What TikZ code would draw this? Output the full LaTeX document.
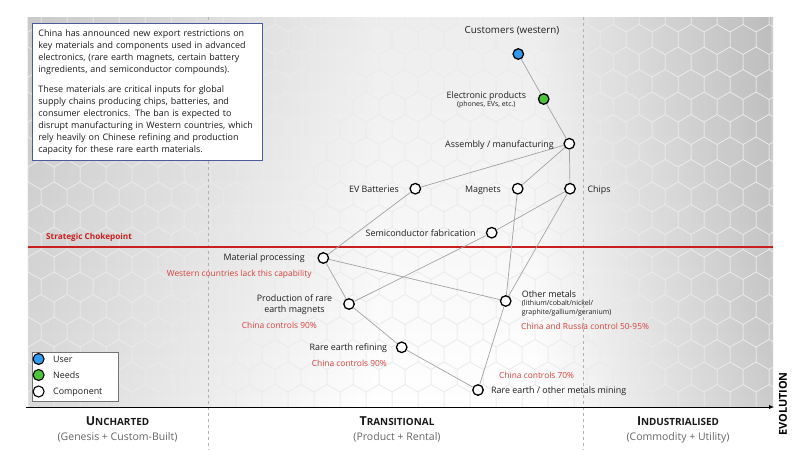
\documentclass[tikz,border=0pt]{standalone}
\usepackage{fontspec}
\setmainfont{Open Sans}
\usetikzlibrary{arrows.meta,fadings}

\definecolor{edgec}{HTML}{A3A3A3}
\definecolor{chk}{HTML}{C8201E}
\definecolor{userc}{HTML}{2E9BF0}
\definecolor{needc}{HTML}{4CC43A}
\definecolor{boxc}{HTML}{4B5A9B}
\definecolor{redtxt}{HTML}{D6403A}
\definecolor{cone}{HTML}{D9D9D9}
\definecolor{ctwo}{HTML}{CBCBCB}
\definecolor{hexc}{HTML}{EBEBEB}
\definecolor{subtxt}{HTML}{666666}

\pgfdeclarehorizontalshading{bgshade}{100bp}{color(0bp)=(cone); color(25bp)=(cone); color(48.5bp)=(white); color(59bp)=(white); color(75bp)=(ctwo); color(100bp)=(ctwo)}

\tikzset{
  comp/.style={circle, draw=black, line width=1.3pt, fill=white, minimum size=10.5pt, inner sep=0pt},
  usernode/.style={comp, fill=userc},
  neednode/.style={comp, fill=needc},
  lbl/.style={font=\fontsize{8.9}{10}\selectfont, inner sep=0pt, text=black!88},
  sublbl/.style={font=\fontsize{7}{8.7}\selectfont, inner sep=0pt, text=black!88},
  note/.style={font=\fontsize{8.4}{10}\selectfont, inner sep=0pt, text=redtxt},
  link/.style={draw=edgec, line width=0.7pt},
  hexline/.style={draw=hexc, line width=0.5pt},
  guide/.style={draw=black!30, line width=0.7pt, dash pattern=on 3pt off 3pt},
  phase/.style={inner sep=0pt, text=black!90, font=\bfseries},
  phasesub/.style={inner sep=0pt, text=subtxt, font=\fontsize{10.5}{12}\selectfont},
}

\begin{document}
\begin{tikzpicture}[x=1pt,y=-1pt]
\useasboundingbox (0,0) rectangle (800,450);
\fill[white] (0,0) rectangle (800,450);

% background panel
\shade[shading=bgshade] (28,17) rectangle (773,407);
\fill[black, opacity=0.07, path fading=south] (28,17) rectangle (773,407);
\begin{scope}
\clip (28,17) rectangle (773,407);
\foreach \r in {0,...,18}{
  \foreach \c in {0,...,29}{
    \pgfmathsetmacro{\hx}{28+26*\c+13*mod(\r,2)}
    \pgfmathsetmacro{\hy}{17+22.5*\r}
    \draw[hexline] (\hx,\hy) ++(0,-15) -- ++(13,7.5) -- ++(0,15) -- ++(-13,7.5) -- ++(-13,-7.5) -- ++(0,-15) -- cycle;
  }
}
\end{scope}

% phase guides
\draw[guide] (208.5,17) -- (208.5,450);
\draw[guide] (583.3,17) -- (583.3,450);

% strategic chokepoint
\coordinate (ck0) at (28,246.7);
\coordinate (ck1) at (773,246.7);
\draw[chk, line width=2pt] (ck0) -- (ck1);
\node[font=\bfseries\fontsize{8.2}{9}\selectfont, text=chk, anchor=base west, inner sep=0pt] (ckL) at (46,239.8) {Strategic Chokepoint};

% text box
\node[draw=boxc, line width=0.8pt, fill=white, anchor=north west, inner xsep=6pt, inner ysep=5pt, align=left, text width=218pt,
      font=\fontsize{8.95}{12.1}\selectfont, text=black!90, minimum height=137pt] (info) at (32,23.3)
 {China has announced new export restrictions on\\
  key materials and components used in advanced\\
  electronics, (rare earth magnets, certain battery\\
  ingredients, and semiconductor compounds).\\[7.5pt]
  These materials are critical inputs for global\\
  supply chains producing chips, batteries, and\\
  consumer electronics. The ban is expected to\\
  disrupt manufacturing in Western countries, which\\
  rely heavily on Chinese refining and production\\
  capacity for these rare earth materials.};

% components
\node[usernode] (cust) at (518.3,54) {};
\node[neednode] (elec) at (543.7,99) {};
\node[comp] (asm) at (569.3,143.7) {};
\node[comp] (ev) at (415.3,188.7) {};
\node[comp] (mag) at (517.7,188.7) {};
\node[comp] (chips) at (570,188.7) {};
\node[comp] (semi) at (491.7,232.7) {};
\node[comp] (mat) at (323.3,258) {};
\node[comp] (prod) at (349,304) {};
\node[comp] (oth) at (505.7,301) {};
\node[comp] (ref) at (401.7,347.3) {};
\node[comp] (mine) at (478,390) {};

% links
\draw[link] (cust) -- (elec);
\draw[link] (elec) -- (asm);
\draw[link] (asm) -- (ev);
\draw[link] (asm) -- (mag);
\draw[link] (asm) -- (chips);
\draw[link] (chips) -- (semi);
\draw[link] (chips) -- (oth);
\draw[link] (mag) -- (oth);
\draw[link] (ev) -- (mat);
\draw[link] (semi) -- (prod);
\draw[link] (mat) -- (prod);
\draw[link] (mat) -- (oth);
\draw[link] (prod) -- (ref);
\draw[link] (ref) -- (mine);
\draw[link] (oth) -- (mine);

% labels
\node[lbl, font=\fontsize{9.8}{11}\selectfont, anchor=base] (custL) at (512,33.6) {Customers (western)};
\node[lbl, anchor=base] (elecL) at (486.3,98.2) {Electronic products};
\node[sublbl, anchor=base] (elecS) at (486.3,106.6) {(phones, EVs, etc.)};
\node[lbl, anchor=base east] (asmL) at (554,147.2) {Assembly / manufacturing};
\node[lbl, anchor=base east] (evL) at (399,192.2) {EV Batteries};
\node[lbl, anchor=base east] (magL) at (501,192.2) {Magnets};
\node[lbl, anchor=base west] (chipsL) at (587.3,192.2) {Chips};
\node[lbl, anchor=base east] (semiL) at (475.7,236.2) {Semiconductor fabrication};
\node[lbl, anchor=base east] (matL) at (305,260.2) {Material processing};
\node[note, anchor=base west] (matN) at (166.7,276.3) {Western countries lack this capability};
\node[lbl, align=center, font=\fontsize{8.9}{10.7}\selectfont, anchor=center] (prodL) at (294.5,304.8) {Production of rare\\earth magnets};
\node[note, anchor=base west] (prodN) at (241.7,328.7) {China controls 90\%};
\node[lbl, anchor=base west] (othL) at (521.7,297.2) {Other metals};
\node[sublbl, align=left, anchor=north west] (othS) at (521.7,299.8) {(lithium/cobalt/nickel/\\graphite/gallium/geranium)};
\node[note, anchor=base west] (othN) at (521,329) {China and Russia control 50-95\%};
\node[lbl, anchor=base east] (refL) at (387.3,350.9) {Rare earth refining};
\node[note, anchor=base west] (refN) at (311.7,366.3) {China controls 90\%};
\node[note, anchor=base west] (mineN) at (499,378) {China controls 70\%};
\node[lbl, anchor=base west] (mineL) at (491,393.2) {Rare earth / other metals mining};

% legend
\node[draw=black!55, line width=0.7pt, fill=white, minimum width=86.6pt, minimum height=49.3pt, inner sep=0pt, anchor=north west] (legend) at (31.7,351.7) {};
\node[usernode, minimum size=11pt, line width=1.1pt] (lgU) at (38.6,359) {};
\node[neednode, minimum size=11pt, line width=1.1pt] (lgN) at (38.6,375) {};
\node[comp, minimum size=11pt, line width=1.1pt] (lgC) at (38.6,391.5) {};
\node[lbl, anchor=base west] (lgUL) at (53,362.2) {User};
\node[lbl, anchor=base west] (lgNL) at (53,378.2) {Needs};
\node[lbl, anchor=base west] (lgCL) at (53,394.7) {Component};

% axis
\coordinate (ax0) at (26,407);
\coordinate (ax1) at (774,407);
\draw[line width=1pt, -{Latex[length=5pt,width=4.5pt]}] (ax0) -- (ax1);
\node[rotate=90, inner sep=0pt, font=\bfseries\fontsize{10.9}{12}\selectfont] (evo) at (783,404) {EVOLUTION};

% phases
\node[phase, anchor=base] (unc) at (117.5,425) {{\fontsize{12.4}{14}\selectfont U}{\fontsize{9.9}{12}\selectfont NCHARTED}};
\node[phasesub, anchor=base] (uncS) at (117.5,440.7) {(Genesis + Custom-Built)};
\node[phase, anchor=base] (tra) at (397,425) {{\fontsize{12.4}{14}\selectfont T}{\fontsize{9.9}{12}\selectfont RANSITIONAL}};
\node[phasesub, anchor=base] (traS) at (397,440.7) {(Product + Rental)};
\node[phase, anchor=base] (ind) at (678,425) {{\fontsize{12.4}{14}\selectfont I}{\fontsize{9.9}{12}\selectfont NDUSTRIALISED}};
\node[phasesub, anchor=base] (indS) at (678,440.7) {(Commodity + Utility)};
\end{tikzpicture}
\end{document}
